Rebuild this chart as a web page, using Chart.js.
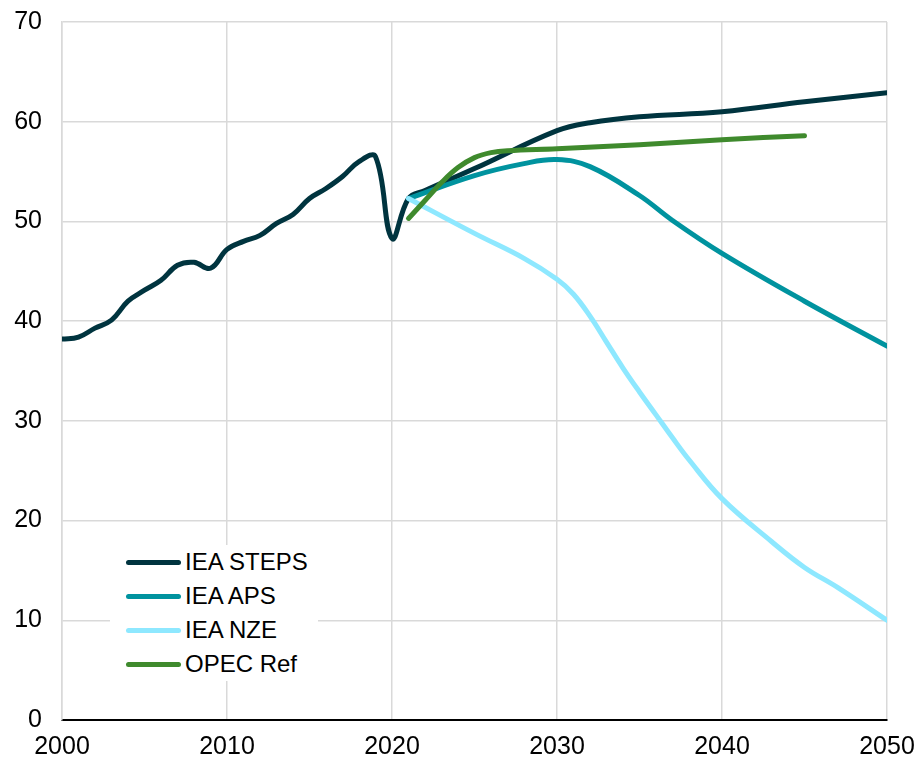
<!DOCTYPE html>
<html>
<head>
<meta charset="utf-8">
<script src="https://cdn.jsdelivr.net/npm/chart.js@4"></script>
<style>
  body { margin: 0; background: #fff; }
  #wrap { position: relative; width: 915px; height: 760px; }
  #legend {
    position: absolute; left: 110px; top: 545px; width: 208px; height: 136px;
    background: #fff; font-family: "Liberation Sans", Arial, sans-serif; font-size: 24px; color: #000;
  }
  .row { position: absolute; left: 0; height: 34px; display: flex; align-items: center; }
  .swatch { width: 55px; height: 5px; border-radius: 3px; margin-left: 16px; margin-right: 4px; }
</style>
</head>
<body>
<div id="wrap">
  <canvas id="chart" width="915" height="760"></canvas>
  <div id="legend"></div>
</div>
<script>
// IEA STEPS (history + projection)
const stepsYears = [2000, 2001, 2002, 2003, 2004, 2005, 2006, 2007, 2008, 2009, 2010,
    2011, 2012, 2013, 2014, 2015, 2016, 2017, 2018, 2019, 2020, 2021,
    2022, 2025, 2030, 2032, 2035, 2040, 2045, 2050];
const stepsValues = [38.2, 38.4, 39.3, 40.1, 42.0, 43.1, 44.1, 45.6, 45.9, 45.3, 47.2,
    48.0, 48.6, 49.8, 50.7, 52.3, 53.3, 54.5, 56.0, 56.5, 48.3, 52.3,
    53.1, 55.3, 59.1, 59.9, 60.5, 61.0, 62.0, 62.9];

const apsYears = [2021, 2025, 2028, 2030, 2032, 2035, 2037, 2040, 2045, 2050];
const apsValues = [52.3, 54.6, 55.8, 56.2, 55.5, 52.6, 50.1, 46.8, 42.0, 37.5];

const nzeYears = [2021, 2025, 2028, 2030, 2031, 2032, 2033, 2034, 2035, 2036, 2037, 2038, 2040, 2043, 2045, 2047, 2050];
const nzeValues = [52.3, 48.8, 46.3, 44.2, 42.7, 40.5, 37.9, 35.3, 32.9, 30.6, 28.3, 26.1, 22.2, 17.9, 15.3, 13.3, 10.0];

const opecYears = [2021, 2022, 2023, 2024, 2025, 2026, 2027, 2030, 2035, 2040, 2045];
const opecValues = [50.3, 52.1, 53.9, 55.4, 56.4, 56.9, 57.1, 57.3, 57.7, 58.2, 58.6];

const seriesLabels = ['IEA STEPS', 'IEA APS', 'IEA NZE', 'OPEC Ref'];
const seriesColors = ['#00343f', '#00939f', '#8ee8ff', '#3f8a2d'];

const xTicks = [2000, 2010, 2020, 2030, 2040, 2050];
const yTicks = [0, 10, 20, 30, 40, 50, 60, 70];

function points(xs, ys) {
    return xs.map((x, i) => ({ x: x, y: ys[i] }));
}

const allData = [
    points(stepsYears, stepsValues),
    points(apsYears, apsValues),
    points(nzeYears, nzeValues),
    points(opecYears, opecValues)
];

const datasets = allData.map((d, i) => ({
    label: seriesLabels[i],
    data: d,
    borderColor: seriesColors[i],
    backgroundColor: seriesColors[i],
    borderWidth: 5,
    borderCapStyle: 'round',
    borderJoinStyle: 'round',
    pointRadius: 0,
    tension: 0.4,
    fill: false,
    order: 4 - i
}));

const tickFont = { family: 'Liberation Sans', size: 25 };

new Chart(document.getElementById('chart'), {
    type: 'line',
    data: { datasets: datasets },
    options: {
        responsive: false,
        animation: false,
        layout: { padding: { left: 0, right: 28, top: 22, bottom: 0 } },
        plugins: {
            legend: { display: false },
            tooltip: { enabled: false }
        },
        scales: {
            x: {
                type: 'linear',
                min: 2000,
                max: 2050,
                afterBuildTicks: axis => { axis.ticks = xTicks.map(v => ({ value: v })); },
                afterFit: axis => {
                    axis.height = 40;
                    axis.paddingLeft = 0;
                    axis.paddingRight = 0;
                },
                ticks: { color: '#000', font: tickFont, padding: 12, maxRotation: 0, callback: v => String(v) },
                grid: { color: '#d9d9d9', lineWidth: 1.5, drawTicks: false },
                border: { color: '#000', width: 2 }
            },
            y: {
                min: 0,
                max: 70,
                afterBuildTicks: axis => { axis.ticks = yTicks.map(v => ({ value: v })); },
                afterFit: axis => {
                    axis.width = 62;
                    axis.paddingTop = 0;
                    axis.paddingBottom = 0;
                },
                ticks: { color: '#000', font: tickFont, padding: 20 },
                grid: { color: '#d9d9d9', lineWidth: 1.5, drawTicks: false },
                border: { color: '#d9d9d9', width: 1.5 }
            }
        }
    }
});

// legend drawn as html, sitting inside the plot area
const legend = document.getElementById('legend');
seriesLabels.forEach((label, i) => {
    const row = document.createElement('div');
    row.className = 'row';
    row.style.top = (i * 34) + 'px';
    row.innerHTML = '<span class="swatch" style="background:' + seriesColors[i] + '"></span><span>' + label + '</span>';
    legend.appendChild(row);
});
</script>
</body>
</html>
